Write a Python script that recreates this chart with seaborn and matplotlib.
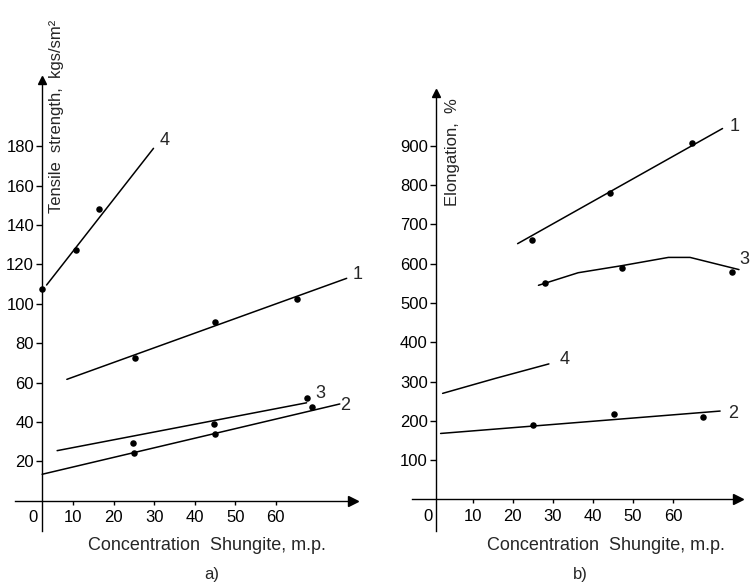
import seaborn as sns
import matplotlib.pyplot as plt

# ---- panel a) tensile strength, kgs/sm^2 ----
# measured points
a1_x = [25.2, 45.0, 65.2]
a1_y = [72.3, 90.9, 102.2]
a2_x = [25.1, 45.0, 69.0]
a2_y = [24.1, 33.9, 47.4]
a3_x = [24.8, 44.7, 67.6]
a3_y = [29.4, 38.9, 52.0]
a4_x = [2.3, 10.7, 16.4]
a4_y = [107.3, 127.2, 147.9]
# fitted lines
a1_line_x = [8.4, 77.5]
a1_line_y = [61.6, 112.9]
a2_line_x = [2.3, 75.8]
a2_line_y = [13.4, 49.1]
a3_line_x = [6.0, 67.6]
a3_line_y = [25.4, 49.7]
a4_line_x = [3.4, 29.8]
a4_line_y = [109.5, 178.9]

# ---- panel b) elongation, % ----
b1_x = [24.9, 44.2, 64.6]
b1_y = [660, 781, 906]
b2_x = [25.1, 45.3, 67.5]
b2_y = [190, 218, 211]
b3_x = [28.0, 47.2, 74.6]
b3_y = [552, 588, 579]
b1_line_x = [21.2, 72.3]
b1_line_y = [651, 944]
b2_line_x = [2.0, 71.7]
b2_line_y = [168, 225]
b3_line_x = [26.4, 36.3, 47.2, 58.8, 64.2, 76.4]
b3_line_y = [545, 577, 595, 616, 616, 585]
b4_line_x = [2.5, 15.6, 29.0]
b4_line_y = [270, 308, 345]

x_ticks = [0, 10, 20, 30, 40, 50, 60]
a_y_ticks = [20, 40, 60, 80, 100, 120, 140, 160, 180]
b_y_ticks = [100, 200, 300, 400, 500, 600, 700, 800, 900]


sns.set_style('ticks')
plt.rcParams['font.family'] = ['Liberation Sans', 'DejaVu Sans']

fig = plt.figure(figsize=(7.5, 5.83), dpi=100)
W, H = 750, 583


def rect(x0, y0, x1, y1):
    return [x0 / W, 1 - y1 / H, (x1 - x0) / W, (y1 - y0) / H]


def style_axis(ax, spine_frac, x_end, yticks):
    ax.set_facecolor('white')
    for s in ['top', 'right']:
        ax.spines[s].set_visible(False)
    ax.spines['left'].set_position(('axes', spine_frac))
    ax.spines['bottom'].set_position(('data', 0))
    ax.spines['bottom'].set_bounds(ax.get_xlim()[0], x_end)
    for s in ['left', 'bottom']:
        ax.spines[s].set_linewidth(1.0)
        ax.spines[s].set_color('black')
    ax.set_xticks(x_ticks)
    ax.set_yticks(yticks)
    ax.tick_params(axis='both', direction='out', length=4, width=1.0,
                   labelsize=12, colors='black', pad=2)
    ax.tick_params(axis='x', length=3, pad=4)
    ax.xaxis.get_major_ticks()[0].tick1line.set_visible(False)
    ax.set_xlabel('')
    ax.set_ylabel('')
    # arrow heads
    ax.plot([x_end], [0], marker='>', color='black', ms=7, clip_on=False,
            transform=ax.transData)
    ax.plot([spine_frac], [1], marker='^', color='black', ms=6, clip_on=False,
            transform=ax.transAxes)


def draw(ax, x, y):
    sns.lineplot(x=x, y=y, ax=ax, color='black', lw=1.1, sort=True)


def dots(ax, x, y):
    sns.scatterplot(x=x, y=y, ax=ax, color='black', s=22, edgecolor='black',
                    linewidth=0, zorder=3)


# panel a)
ax1 = fig.add_axes(rect(15, 80, 353, 531))
ax1.set_xlim(-4.4, 79.06)
ax1.set_ylim(-15.4, 213.6)
draw(ax1, a1_line_x, a1_line_y)
draw(ax1, a2_line_x, a2_line_y)
draw(ax1, a3_line_x, a3_line_y)
draw(ax1, a4_line_x, a4_line_y)
dots(ax1, a1_x, a1_y)
dots(ax1, a2_x, a2_y)
dots(ax1, a3_x, a3_y)
dots(ax1, a4_x, a4_y)
style_axis(ax1, 0.081, 79.06, a_y_ticks)
for lab, (tx, ty) in {'1': (80.3, 114.6), '2': (77.1, 48.1),
                      '3': (70.9, 54.5), '4': (32.6, 183.0)}.items():
    ax1.text(tx, ty, lab, fontsize=13, ha='center', va='center')

# panel b)
ax2 = fig.add_axes(rect(411.7, 93.3, 750, 531))
ax2.set_xlim(-5.21, 79.15)
ax2.set_ylim(-80.2, 1033.6)
draw(ax2, b1_line_x, b1_line_y)
draw(ax2, b2_line_x, b2_line_y)
draw(ax2, b3_line_x, b3_line_y)
draw(ax2, b4_line_x, b4_line_y)
dots(ax2, b1_x, b1_y)
dots(ax2, b2_x, b2_y)
dots(ax2, b3_x, b3_y)
style_axis(ax2, 0.072, 76.2, b_y_ticks)
# the "0" sits left of the vertical axis
ax2.xaxis.get_major_ticks()[0].label1.set_horizontalalignment('right')
for lab, (tx, ty) in {'1': (75.4, 948), '2': (75.0, 219),
                      '4': (32.8, 356)}.items():
    ax2.text(tx, ty, lab, fontsize=13, ha='center', va='center')
# curve 3 label sits at the right edge of the figure
ax2.text(78.9, 610, '3', fontsize=13, ha='right', va='center')

# axis titles and panel letters
fig.text(57 / W, 1 - 116.5 / H, 'Tensile  strength,  kgs/sm²', rotation=90,
         ha='center', va='center', fontsize=12)
fig.text(452 / W, 1 - 152.5 / H, 'Elongation,  %', rotation=90,
         ha='center', va='center', fontsize=12)
fig.text(207 / W, 1 - 546 / H, 'Concentration  Shungite, m.p.',
         ha='center', va='center', fontsize=13)
fig.text(606 / W, 1 - 546 / H, 'Concentration  Shungite, m.p.',
         ha='center', va='center', fontsize=13)
fig.text(212 / W, 1 - 575 / H, 'a)', ha='center', va='center', fontsize=12)
fig.text(580 / W, 1 - 575 / H, 'b)', ha='center', va='center', fontsize=12)

fig.savefig('out.png', dpi=100, facecolor='white')
